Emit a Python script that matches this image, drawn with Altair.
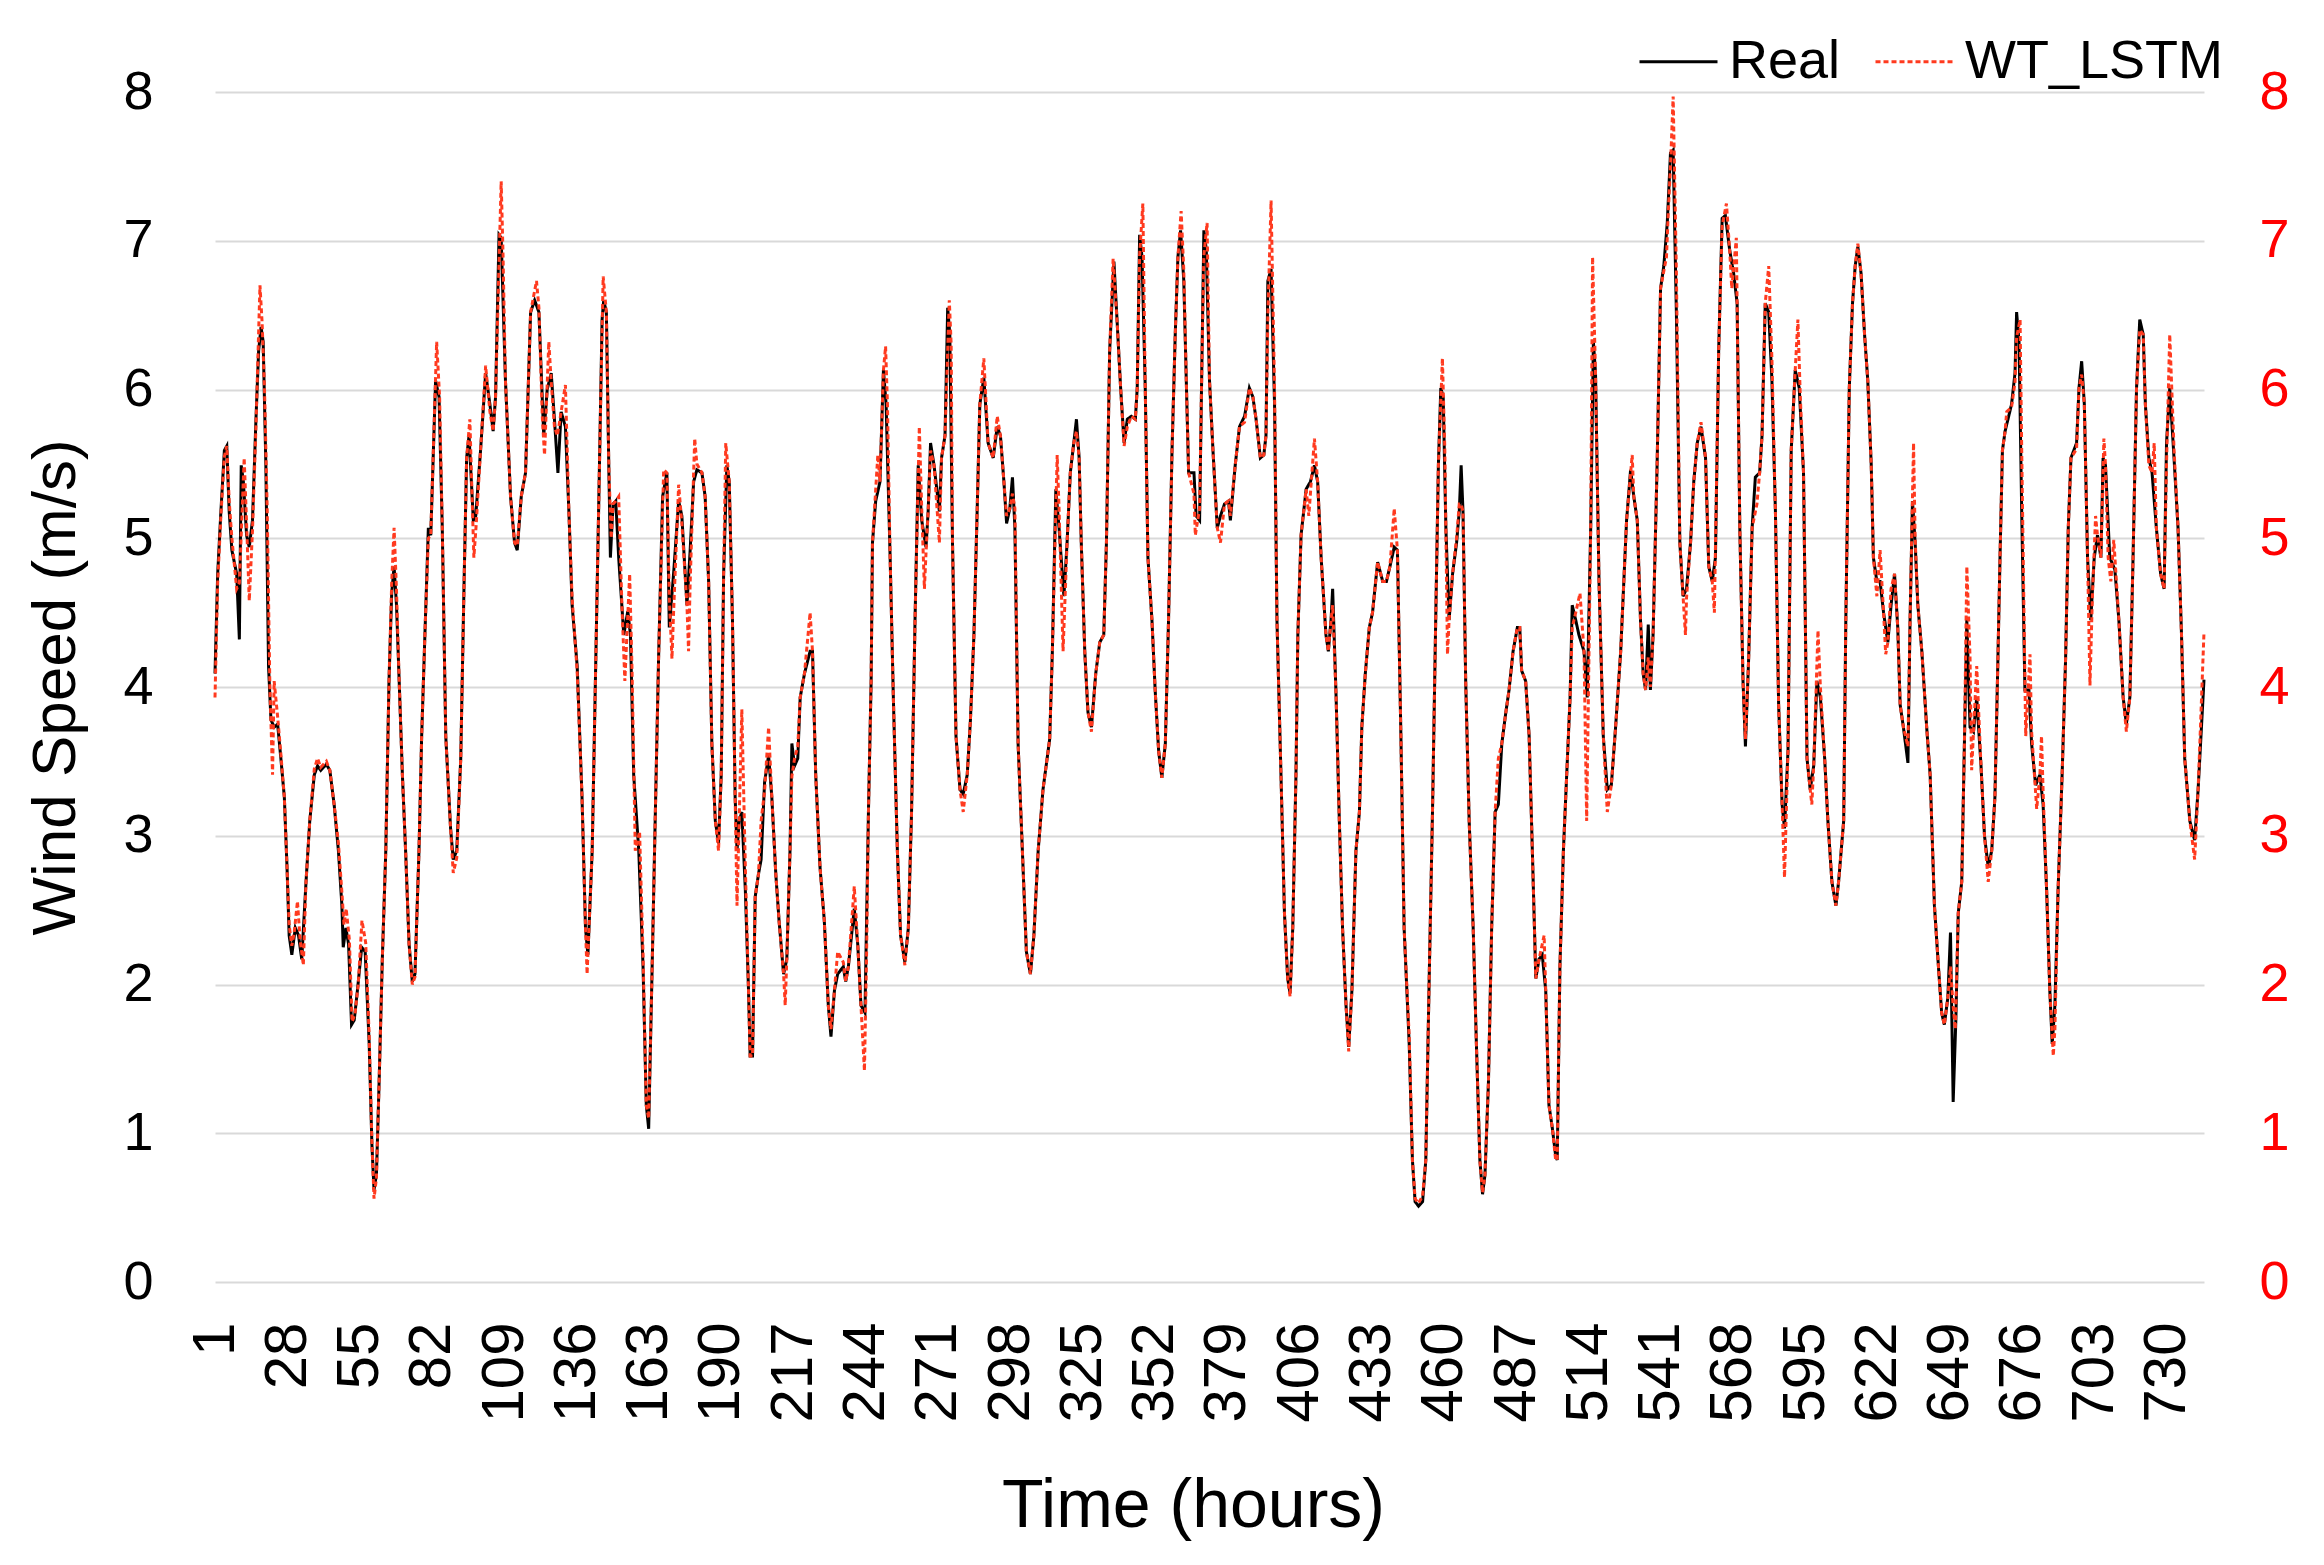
import altair as alt
import pandas as pd

# ---------------- data ----------------
real_hours = [
    1.0, 2.0, 3.2, 4.5, 5.4, 6.3, 7.3, 9.1, 10.1, 10.8, 11.6, 12.8, 13.8, 15.0, 16.3, 17.3, 18.2, 19.0, 20.0, 21.0,
    21.9, 23.1, 24.4, 25.6, 26.9, 27.9, 28.7, 29.7, 31.0, 32.2, 33.4, 35.0, 36.4, 38.1, 39.3, 40.5, 42.6, 43.9, 45.5, 47.1,
    48.4, 48.9, 49.9, 50.9, 52.0, 53.0, 54.2, 55.8, 57.1, 58.6, 59.6, 60.4, 61.3, 62.3, 63.5, 64.8, 66.0, 67.0, 67.9, 68.8,
    69.8, 71.0, 72.2, 73.5, 74.7, 75.7, 77.2, 78.2, 79.5, 80.7,
    81.6, 83.4, 84.7, 85.9, 87.2, 89.0, 90.0, 91.3, 92.8, 94.0, 95.0, 95.9, 97.5, 98.4, 100.2, 102.1, 103.7, 104.9, 105.8, 107.1,
    107.9, 109.5, 111.4, 112.9, 113.9, 115.4, 117.0, 118.9, 120.4, 122.0, 123.8, 125.1, 126.6, 127.8, 129.1, 130.3, 131.9, 133.2, 134.4, 136.3,
    138.1, 139.4, 140.3, 141.9, 143.1, 144.4, 145.6, 146.2, 147.2, 148.1, 148.7, 149.7, 150.7, 151.8, 153.7, 155.2, 156.2, 157.4, 159.3, 160.9,
    162.1, 163.0, 164.3, 165.5, 166.7,
    168.2, 169.8, 170.7, 172.3, 174.2, 175.4, 177.3, 178.5, 179.8, 181.0, 182.9, 184.1, 185.4, 186.6, 187.9, 189.1, 190.1, 191.0, 192.2, 193.1,
    194.3, 195.3, 196.0, 196.8, 197.8, 199.1, 200.3, 200.9, 201.8, 202.8, 204.0, 205.0, 206.3, 207.8, 209.0, 210.5, 211.7, 213.4, 214.6, 215.8,
    216.5, 217.5, 218.7, 219.6, 221.2, 223.3, 224.2, 225.4, 227.0, 228.6, 230.1, 231.1, 232.4, 233.6, 235.7, 236.6, 237.6, 239.8, 241.1, 242.3,
    243.8, 245.1, 246.1, 246.6, 247.8, 249.4,
    250.7, 251.7, 253.2, 254.4, 255.9, 257.1, 258.7, 260.0, 261.2, 262.5, 263.7, 265.0, 266.6, 267.4, 268.3, 269.6, 271.6, 272.4, 273.7, 274.7,
    275.5, 276.5, 277.8, 279.3, 280.5, 282.0, 283.2, 284.5, 285.7, 286.7, 288.2, 289.8, 291.7, 293.2, 294.4, 295.7, 296.7, 297.9, 298.9, 299.8,
    301.0, 302.6, 304.1, 305.6, 306.9, 308.5, 310.3, 312.8, 313.8, 315.1, 316.3, 318.1, 319.3, 320.5, 321.8, 322.8, 323.8, 324.6, 325.9, 327.1,
    328.4, 330.0, 331.5, 333.0, 334.0, 335.2,
    336.8, 338.1, 339.3, 340.6, 341.8, 343.3, 344.8, 345.5, 346.4, 347.3, 348.5, 349.5, 351.0, 352.2, 353.5, 354.7, 356.0, 357.2, 358.5, 359.7,
    360.7, 361.7, 362.9, 363.9, 364.7, 366.7, 367.5, 368.8, 369.6, 370.4, 371.3, 372.5, 373.8, 375.4, 376.6, 378.1, 379.6, 380.3, 382.1, 383.7,
    385.6, 387.4, 388.7, 389.9, 391.5, 392.8, 393.6, 394.3, 395.5, 396.8, 397.7, 399.2, 400.5, 401.7, 402.6, 403.6, 404.8, 405.5, 406.7, 408.6,
    410.2, 411.7, 412.9, 414.2, 416.0, 416.9, 417.9,
    418.5, 419.8, 421.0, 422.2, 423.5, 424.5, 425.7, 427.2, 428.5, 429.4, 430.7, 432.2, 433.4, 435.3, 437.2, 438.6, 439.9, 441.5, 442.7, 444.0,
    445.2, 447.1, 448.3, 449.3, 450.6, 452.1, 453.3, 454.6, 455.8, 457.0, 458.0, 458.9, 459.8, 460.8, 462.0, 463.3, 464.8, 465.8, 466.5, 467.2,
    468.2, 469.5, 471.0, 472.2, 473.5, 474.5, 475.4, 476.7, 477.9, 479.2, 480.4, 481.7, 483.2, 484.4, 485.9, 487.5, 488.4, 489.1, 490.6, 491.9,
    493.1, 494.4, 495.6, 496.8, 498.1, 499.3, 500.6, 501.8, 502.4,
    503.4, 504.7, 506.2, 507.2, 508.0, 509.3, 510.5, 512.4, 513.6, 514.9, 515.9, 516.7, 518.0, 519.6, 521.1, 522.6, 524.2, 526.1, 528.3, 529.8,
    531.0, 532.3, 533.5, 534.5, 535.4, 536.4, 537.2, 538.2, 539.7, 541.0, 542.2, 543.5, 544.7, 545.7, 546.9, 548.2, 549.4, 550.7, 552.2, 553.4,
    554.7, 556.1, 557.8, 559.0, 560.3, 561.5, 562.7, 564.0, 565.2, 566.8, 568.3, 569.6, 570.6, 571.8, 572.7, 573.9, 575.2, 576.4, 578.0, 578.9,
    580.1, 581.4, 582.6, 583.9,
    585.1, 586.4, 587.3, 588.6, 589.8, 591.3, 592.8, 594.4, 595.7, 596.9, 598.2, 599.4, 600.7, 602.3, 603.5, 605.0, 606.5, 607.5, 609.4, 610.2,
    611.5, 612.7, 613.7, 614.7, 615.9, 617.2, 618.4, 619.7, 620.5, 621.8, 623.0, 624.3, 625.9, 627.1, 628.4, 629.6, 630.5, 631.7, 633.4, 634.2,
    635.1, 636.1, 637.1, 638.6, 640.4, 641.7, 643.3, 644.8, 646.0, 647.0, 648.3, 649.3, 650.3, 651.3, 652.2, 653.5, 654.5, 655.4, 656.6, 657.9,
    659.1, 660.7, 662.0, 663.4, 664.7, 665.9, 666.9, 667.8, 668.7, 669.7,
    672.1, 673.4, 674.0, 674.9, 675.9, 677.1, 678.6, 679.6, 681.1, 682.7, 683.9, 685.2, 686.4, 687.3, 688.3, 689.5, 691.0, 692.3, 693.3, 694.3,
    696.4, 697.3, 698.3, 699.3, 700.5, 701.7, 703.0, 704.2, 705.5, 706.3, 707.2, 708.8, 710.7, 712.2, 713.8, 715.0, 716.3, 717.5, 718.8, 720.0,
    721.3, 722.1, 723.4, 724.6, 726.2, 727.8, 729.1, 730.0, 731.2, 732.8, 734.3, 735.6, 736.8, 738.7, 740.5, 741.8, 744.0,
]
real_speed = [
    4.09, 4.76, 5.18, 5.59, 5.62, 5.18, 4.92, 4.76, 4.32, 5.49, 5.38, 5.02, 4.94, 5.12, 5.80, 6.26, 6.42, 6.32, 5.49, 4.14,
    3.78, 3.73, 3.75, 3.52, 3.26, 2.79, 2.33, 2.20, 2.38, 2.33, 2.17, 2.69, 3.10, 3.41, 3.47, 3.44, 3.48, 3.44, 3.21, 2.90,
    2.53, 2.25, 2.38, 2.27, 1.73, 1.76, 1.96, 2.25, 2.22, 1.60, 0.93, 0.62, 0.72, 1.34, 2.17, 2.90, 4.04, 4.63, 4.81, 4.55,
    4.04, 3.41, 2.90, 2.27, 2.02, 2.07, 2.90, 3.67, 4.40, 5.07,
    5.02, 6.06, 5.95, 5.07, 3.67, 3.05, 2.84, 2.90, 3.52, 4.66, 5.54, 5.69, 5.12, 5.15, 5.59, 6.11, 5.90, 5.72, 5.95, 7.04,
    7.02, 6.06, 5.28, 4.97, 4.92, 5.28, 5.44, 6.52, 6.60, 6.52, 5.69, 6.00, 6.11, 5.80, 5.44, 5.85, 5.75, 5.18, 4.55, 4.14,
    3.26, 2.38, 2.20, 2.90, 4.04, 5.28, 6.47, 6.60, 6.52, 5.49, 4.87, 5.23, 5.25, 4.87, 4.35, 4.51, 4.35, 3.41, 2.90, 2.12,
    1.19, 1.03, 2.12, 3.16, 4.19,
    5.28, 5.44, 4.40, 4.76, 5.25, 5.15, 4.55, 4.92, 5.38, 5.46, 5.44, 5.28, 4.71, 3.62, 3.10, 2.95, 3.41, 4.76, 5.49, 5.38,
    4.45, 3.26, 2.90, 3.10, 3.16, 2.64, 1.96, 1.52, 1.52, 2.59, 2.74, 2.84, 3.36, 3.54, 3.26, 2.74, 2.43, 2.07, 2.17, 2.90,
    3.62, 3.47, 3.52, 3.93, 4.09, 4.24, 4.24, 3.41, 2.79, 2.43, 1.86, 1.65, 1.96, 2.07, 2.12, 2.02, 2.12, 2.51, 2.27, 1.86,
    1.81, 3.16, 4.04, 4.97, 5.25, 5.38,
    6.13, 5.90, 4.87, 3.93, 2.90, 2.33, 2.15, 2.38, 3.16, 4.45, 5.49, 5.12, 4.94, 5.18, 5.64, 5.49, 5.18, 5.54, 5.69, 6.55,
    6.37, 4.97, 3.67, 3.31, 3.28, 3.41, 3.78, 4.35, 5.18, 5.90, 6.08, 5.64, 5.54, 5.75, 5.69, 5.38, 5.10, 5.20, 5.41, 5.07,
    3.62, 2.90, 2.22, 2.07, 2.33, 2.90, 3.31, 3.65, 4.24, 5.33, 5.07, 4.61, 4.97, 5.44, 5.64, 5.80, 5.54, 4.97, 4.24, 3.83,
    3.73, 4.09, 4.30, 4.35, 4.97, 6.26,
    6.86, 6.42, 6.01, 5.64, 5.80, 5.82, 5.80, 6.01, 7.04, 6.89, 6.01, 4.87, 4.45, 3.98, 3.57, 3.39, 3.62, 4.45, 5.59, 6.37,
    6.89, 7.07, 6.73, 6.01, 5.44, 5.44, 5.15, 5.12, 6.11, 7.07, 6.94, 6.06, 5.59, 5.07, 5.15, 5.23, 5.25, 5.12, 5.49, 5.75,
    5.82, 6.01, 5.95, 5.80, 5.54, 5.56, 5.69, 6.73, 6.81, 5.90, 4.45, 3.41, 2.48, 2.04, 1.94, 2.38, 3.41, 4.35, 5.02, 5.33,
    5.38, 5.49, 5.38, 4.87, 4.35, 4.24, 4.45,
    4.66, 3.93, 3.10, 2.38, 1.86, 1.58, 1.96, 2.90, 3.16, 3.73, 4.09, 4.40, 4.50, 4.84, 4.71, 4.71, 4.81, 4.94, 4.92, 3.67,
    2.38, 1.60, 0.82, 0.54, 0.51, 0.54, 0.82, 2.07, 3.16, 4.45, 5.49, 6.01, 5.95, 5.07, 4.45, 4.76, 4.97, 5.18, 5.49, 5.18,
    4.04, 3.10, 2.38, 1.60, 0.82, 0.59, 0.72, 1.34, 2.38, 3.16, 3.21, 3.62, 3.83, 3.98, 4.24, 4.40, 4.40, 4.11, 4.04, 3.67,
    2.90, 2.04, 2.17, 2.20, 1.96, 1.19, 1.03, 0.85, 0.82,
    2.12, 2.90, 3.52, 3.93, 4.55, 4.45, 4.35, 4.24, 3.93, 5.07, 6.32, 6.11, 4.71, 3.67, 3.31, 3.34, 3.73, 4.24, 5.12, 5.46,
    5.28, 5.12, 4.45, 4.09, 3.98, 4.42, 3.98, 4.35, 5.49, 6.68, 6.83, 7.12, 7.59, 7.61, 6.52, 4.97, 4.61, 4.66, 4.97, 5.38,
    5.64, 5.75, 5.54, 4.81, 4.71, 4.87, 6.26, 7.15, 7.17, 6.94, 6.78, 6.58, 5.07, 4.04, 3.60, 4.19, 5.07, 5.41, 5.44, 5.69,
    6.58, 6.52, 6.06, 5.18,
    3.88, 3.21, 3.05, 3.57, 5.59, 6.13, 6.01, 5.44, 3.52, 3.31, 3.47, 4.04, 3.93, 3.52, 3.10, 2.69, 2.53, 2.69, 3.10, 4.45,
    6.01, 6.58, 6.83, 6.96, 6.78, 6.37, 6.06, 5.49, 4.87, 4.71, 4.71, 4.50, 4.30, 4.55, 4.76, 4.40, 3.88, 3.73, 3.49, 4.45,
    5.25, 4.97, 4.55, 4.24, 3.73, 3.41, 2.53, 2.12, 1.81, 1.73, 1.91, 2.35, 1.21, 1.76, 2.48, 2.69, 3.62, 4.45, 3.73, 3.70,
    3.93, 3.47, 3.00, 2.79, 2.90, 3.26, 4.09, 4.87, 5.59, 5.72,
    5.90, 6.11, 6.52, 6.32, 5.18, 3.98, 3.98, 3.62, 3.34, 3.41, 3.21, 2.64, 1.96, 1.60, 1.86, 2.64, 3.41, 4.19, 5.07, 5.54,
    5.64, 6.01, 6.19, 5.90, 4.87, 4.45, 4.87, 5.02, 4.87, 5.54, 5.49, 4.87, 4.79, 4.45, 3.93, 3.75, 3.93, 4.87, 6.01, 6.47,
    6.37, 5.90, 5.54, 5.44, 5.07, 4.76, 4.66, 5.64, 6.01, 5.54, 5.07, 4.35, 3.52, 3.10, 2.97, 3.31, 4.05,
]

lstm_hours = [
    1.0, 2.0, 3.2, 4.5, 5.4, 6.3, 7.3, 9.1, 10.1, 11.9, 12.8, 13.8, 15.0, 16.3, 17.8, 18.6, 19.5, 20.5, 21.5, 22.5,
    23.1, 24.4, 25.6, 26.9, 27.9, 28.7, 29.7, 30.6, 31.8, 32.8, 34.0, 35.0, 36.4, 38.1, 39.3, 40.5, 42.6, 43.9, 45.5, 47.1,
    48.4, 49.2, 50.0, 51.2, 52.2, 53.3, 54.5, 55.9, 57.3, 58.6, 59.6, 60.4, 61.3, 62.3, 63.5, 64.8, 66.0, 67.0, 67.9, 68.8,
    69.8, 71.0, 72.2, 73.5, 74.7, 75.7, 77.2, 78.2, 79.5, 80.7,
    81.6, 83.8, 84.9, 85.9, 87.2, 89.0, 90.0, 91.3, 92.8, 94.0, 95.0, 96.2, 97.7, 98.6, 100.2, 102.1, 103.7, 104.9, 105.8, 107.9,
    108.6, 109.5, 111.4, 112.9, 113.9, 115.4, 117.0, 118.9, 121.1, 122.0, 123.3, 124.1, 125.7, 126.6, 127.8, 128.9, 130.3, 131.9, 133.2, 134.4,
    136.3, 138.1, 139.4, 140.0, 141.9, 143.1, 144.4, 146.0, 147.2, 148.1, 149.0, 149.7, 150.7, 151.8, 153.0, 154.1, 155.9, 156.8, 158.0, 159.6,
    160.9, 162.1, 163.0, 164.3, 165.5, 166.7,
    168.6, 169.8, 170.7, 171.7, 172.3, 174.2, 175.4, 177.3, 177.9, 178.5, 180.2, 181.0, 182.9, 184.1, 185.4, 186.6, 187.9, 189.1, 190.1, 191.0,
    191.8, 193.1, 194.3, 195.3, 196.0, 196.8, 197.8, 199.1, 200.3, 200.9, 201.8, 202.8, 204.0, 205.0, 206.3, 207.8, 209.0, 210.5, 211.7, 213.4,
    214.0, 214.6, 215.8, 216.5, 217.5, 218.7, 219.6, 221.2, 223.3, 224.2, 225.4, 227.0, 228.6, 230.1, 231.1, 232.4, 233.6, 235.7, 236.6, 237.6,
    239.8, 241.1, 242.3, 243.6, 244.4, 245.1, 246.1, 246.6, 248.6, 249.4,
    250.7, 251.5, 252.2, 253.2, 254.4, 255.9, 257.1, 258.7, 260.0, 261.2, 262.5, 264.1, 265.0, 266.0, 266.6, 267.4, 268.3, 269.6, 271.6, 272.4,
    273.7, 275.3, 276.0, 276.5, 277.8, 279.3, 280.5, 282.0, 283.2, 284.5, 285.7, 286.7, 288.2, 289.8, 291.7, 293.2, 294.4, 295.7, 296.7, 297.9,
    298.9, 299.8, 301.0, 302.6, 304.1, 305.6, 306.9, 308.5, 310.3, 312.8, 313.8, 315.6, 316.3, 317.8, 319.3, 320.5, 321.8, 322.8, 323.8, 324.6,
    325.9, 327.1, 328.4, 330.0, 331.5, 333.0, 334.0, 335.2, 336.5,
    338.1, 339.3, 340.6, 341.8, 343.3, 344.8, 345.5, 346.4, 347.6, 348.5, 349.5, 351.0, 352.2, 353.5, 354.7, 356.0, 357.2, 358.5, 359.7, 360.7,
    361.9, 362.9, 363.9, 364.7, 366.7, 367.2, 368.8, 369.6, 370.4, 371.6, 372.5, 373.8, 375.4, 376.6, 378.1, 379.6, 380.3, 382.1, 383.7, 385.6,
    387.4, 388.7, 389.9, 391.5, 392.8, 393.6, 394.3, 395.5, 396.8, 397.7, 399.2, 400.5, 401.7, 402.6, 403.6, 404.8, 405.5, 406.7, 408.6, 409.6,
    410.6, 411.7, 412.9, 414.2, 416.0, 416.9, 417.9,
    418.5, 419.8, 421.0, 422.2, 423.5, 424.5, 425.7, 427.2, 428.5, 429.4, 430.7, 432.2, 433.4, 435.3, 437.2, 438.6, 439.9, 441.5, 442.7, 444.0,
    445.2, 447.1, 448.3, 449.3, 450.6, 452.1, 453.3, 454.6, 455.8, 457.0, 458.0, 459.5, 460.4, 461.4, 462.0, 463.3, 464.8, 465.8, 466.5, 467.2,
    468.2, 469.5, 471.0, 472.2, 473.5, 474.5, 475.4, 476.7, 477.9, 479.2, 480.4, 481.7, 483.2, 484.4, 485.9, 487.5, 488.4, 489.1, 490.6, 491.9,
    493.1, 494.4, 495.6, 497.5, 498.1, 499.3, 500.6, 501.8, 502.4,
    503.4, 504.7, 506.2, 507.2, 508.0, 509.3, 510.9, 512.4, 513.4, 514.9, 515.6, 516.7, 518.0, 519.6, 521.1, 522.6, 524.2, 526.1, 528.3, 530.4,
    531.0, 532.3, 533.5, 534.5, 535.4, 536.4, 537.2, 538.2, 539.7, 541.0, 543.2, 543.9, 544.7, 545.7, 546.9, 548.2, 549.4, 550.3, 550.7, 552.2,
    553.4, 554.7, 556.1, 557.8, 559.0, 560.3, 561.1, 562.7, 564.0, 565.6, 566.8, 567.6, 569.3, 570.6, 571.8, 572.7, 573.9, 575.2, 577.0, 578.0,
    578.9, 580.1, 581.4, 582.6, 583.9,
    585.1, 586.4, 587.3, 588.6, 589.8, 591.3, 592.3, 593.2, 594.4, 595.7, 596.9, 597.5, 598.2, 599.8, 600.7, 602.3, 603.5, 605.0, 606.5, 607.5,
    609.4, 610.2, 611.5, 612.7, 613.7, 614.7, 615.9, 617.2, 618.4, 619.7, 620.5, 621.8, 623.0, 624.3, 625.1, 625.9, 627.1, 628.4, 629.6, 630.5,
    631.7, 633.4, 634.2, 635.5, 636.1, 637.1, 638.6, 640.4, 641.7, 643.3, 644.8, 646.0, 647.0, 648.3, 649.3, 650.3, 651.1, 652.2, 653.5, 654.5,
    655.4, 656.6, 657.2, 657.9, 659.1, 660.7, 662.0, 663.4, 664.7, 665.9, 666.9, 667.8, 668.7, 669.7,
    670.3, 672.1, 673.4, 674.0, 675.3, 675.9, 677.4, 679.0, 679.6, 681.5, 682.7, 683.3, 683.9, 685.2, 686.4, 687.7, 688.3, 689.5, 691.0, 692.3,
    693.3, 694.3, 696.4, 697.3, 698.3, 699.3, 700.5, 701.4, 702.3, 703.5, 704.2, 705.5, 706.6, 707.2, 708.2, 709.2, 710.3, 712.2, 713.8, 715.0,
    716.3, 717.5, 718.8, 720.0, 721.3, 722.1, 723.4, 724.6, 725.4, 726.2, 727.8, 729.1, 730.0, 731.2, 732.8, 734.3, 735.6, 736.8, 738.7, 740.5,
    741.8, 744.0,
]
lstm_speed = [
    3.93, 4.70, 5.15, 5.55, 5.62, 5.25, 5.00, 4.66, 4.70, 5.54, 5.10, 4.58, 5.05, 5.75, 6.70, 6.45, 6.00, 5.20, 4.00, 3.41,
    4.04, 3.80, 3.55, 3.26, 2.79, 2.40, 2.26, 2.35, 2.56, 2.30, 2.13, 2.69, 3.10, 3.45, 3.52, 3.46, 3.50, 3.44, 3.21, 2.95,
    2.62, 2.40, 2.51, 2.30, 1.75, 1.80, 2.00, 2.43, 2.28, 1.65, 0.95, 0.56, 0.70, 1.34, 2.17, 2.90, 4.04, 4.70, 5.07, 4.65,
    4.04, 3.41, 2.90, 2.27, 2.00, 2.05, 2.90, 3.67, 4.40, 5.00,
    5.02, 6.32, 5.95, 5.07, 3.67, 3.05, 2.75, 2.85, 3.52, 4.66, 5.54, 5.80, 4.87, 5.10, 5.59, 6.16, 5.85, 5.72, 5.95, 7.40,
    6.90, 6.06, 5.28, 4.97, 4.95, 5.28, 5.44, 6.52, 6.73, 6.55, 5.80, 5.56, 6.32, 6.05, 5.75, 5.69, 5.85, 6.03, 5.18, 4.60,
    4.10, 3.26, 2.38, 2.07, 2.90, 4.04, 5.28, 6.76, 6.52, 5.49, 5.00, 5.23, 5.25, 5.28, 4.55, 4.04, 4.76, 4.10, 2.90, 3.03,
    2.20, 1.19, 1.10, 2.12, 3.16, 4.19,
    5.46, 5.44, 4.60, 4.19, 4.50, 5.36, 5.10, 4.55, 4.24, 4.70, 5.67, 5.50, 5.44, 5.28, 4.71, 3.62, 3.10, 2.90, 3.41, 4.76,
    5.64, 5.38, 4.45, 3.26, 2.53, 3.10, 3.85, 2.80, 1.96, 1.52, 1.52, 2.59, 2.74, 3.10, 3.30, 3.73, 3.26, 2.74, 2.43, 2.07,
    1.86, 2.17, 2.90, 3.40, 3.52, 3.60, 3.93, 4.09, 4.50, 4.24, 3.41, 2.79, 2.43, 1.86, 1.70, 1.96, 2.22, 2.15, 2.02, 2.12,
    2.66, 2.27, 1.86, 1.42, 2.20, 3.16, 4.04, 4.97, 5.56, 5.38,
    6.13, 6.29, 5.90, 4.87, 3.93, 2.90, 2.33, 2.13, 2.38, 3.16, 4.45, 5.75, 5.20, 4.66, 4.90, 5.18, 5.59, 5.49, 4.97, 5.54,
    5.69, 6.60, 6.30, 4.97, 3.67, 3.31, 3.16, 3.41, 3.78, 4.35, 5.18, 5.90, 6.21, 5.64, 5.54, 5.82, 5.69, 5.38, 5.15, 5.20,
    5.30, 5.20, 3.62, 2.90, 2.22, 2.07, 2.33, 2.90, 3.31, 3.65, 4.24, 5.56, 5.20, 4.24, 4.97, 5.44, 5.64, 5.72, 5.54, 4.97,
    4.24, 3.83, 3.70, 4.09, 4.30, 4.35, 4.97, 6.26, 6.88,
    6.42, 6.01, 5.62, 5.75, 5.82, 5.80, 6.01, 6.90, 7.25, 6.01, 4.87, 4.45, 3.98, 3.57, 3.39, 3.62, 4.45, 5.59, 6.37, 6.89,
    7.20, 6.80, 6.01, 5.44, 5.30, 5.02, 5.20, 6.11, 6.90, 7.12, 6.06, 5.59, 5.07, 4.97, 5.23, 5.25, 5.15, 5.49, 5.75, 5.78,
    6.01, 5.95, 5.80, 5.54, 5.56, 5.69, 6.50, 7.27, 6.00, 4.45, 3.41, 2.48, 2.04, 1.92, 2.38, 3.41, 4.35, 5.02, 5.33, 5.15,
    5.40, 5.67, 5.38, 4.87, 4.35, 4.24, 4.45,
    4.55, 3.93, 3.10, 2.38, 1.86, 1.55, 1.96, 2.90, 3.16, 3.73, 4.09, 4.40, 4.50, 4.84, 4.71, 4.71, 4.81, 5.20, 4.92, 3.67,
    2.38, 1.65, 0.82, 0.56, 0.53, 0.58, 0.82, 2.07, 3.16, 4.45, 5.49, 6.21, 5.60, 4.22, 4.45, 4.76, 5.00, 5.23, 5.23, 5.18,
    4.04, 3.10, 2.38, 1.60, 0.82, 0.60, 0.72, 1.34, 2.38, 3.16, 3.52, 3.62, 3.83, 3.98, 4.24, 4.40, 4.40, 4.11, 4.04, 3.67,
    2.90, 2.04, 2.17, 2.33, 1.96, 1.19, 1.03, 0.82, 0.82,
    2.12, 2.90, 3.52, 3.93, 4.40, 4.50, 4.63, 4.24, 3.10, 5.07, 6.89, 6.11, 4.71, 3.67, 3.16, 3.34, 3.73, 4.24, 5.12, 5.56,
    5.28, 5.12, 4.45, 4.09, 3.98, 4.20, 4.00, 4.35, 5.49, 6.68, 6.89, 7.20, 7.50, 7.97, 6.80, 4.97, 4.61, 4.35, 4.60, 4.97,
    5.38, 5.64, 5.78, 5.54, 4.81, 4.71, 4.50, 6.26, 7.10, 7.25, 6.94, 6.68, 7.02, 5.07, 4.04, 3.65, 4.19, 5.07, 5.23, 5.44,
    5.69, 6.58, 6.83, 6.20, 5.18,
    3.88, 3.21, 2.72, 3.57, 5.59, 6.13, 6.47, 5.95, 5.44, 3.52, 3.31, 3.21, 3.47, 4.38, 4.00, 3.52, 3.10, 2.69, 2.53, 2.69,
    3.10, 4.45, 6.01, 6.58, 6.83, 6.98, 6.78, 6.37, 6.06, 5.49, 4.87, 4.61, 4.92, 4.50, 4.22, 4.30, 4.66, 4.76, 4.40, 3.88,
    3.73, 3.60, 4.45, 5.64, 5.00, 4.55, 4.24, 3.73, 3.41, 2.53, 2.12, 1.81, 1.73, 1.91, 2.12, 1.85, 1.70, 2.48, 2.69, 3.62,
    4.81, 4.20, 3.44, 3.70, 4.14, 3.47, 3.00, 2.69, 2.90, 3.26, 4.09, 4.87, 5.59, 5.72,
    5.85, 5.88, 6.05, 6.35, 6.47, 5.60, 3.67, 4.22, 3.70, 3.18, 3.41, 3.67, 3.30, 2.64, 1.96, 1.52, 1.70, 2.64, 3.41, 4.19,
    5.07, 5.54, 5.60, 6.01, 6.10, 5.90, 4.87, 4.01, 4.60, 5.15, 5.02, 4.87, 5.67, 5.49, 4.87, 4.71, 4.99, 4.45, 3.93, 3.70,
    3.93, 4.87, 6.01, 6.40, 6.37, 5.90, 5.49, 5.44, 5.64, 5.07, 4.76, 4.66, 5.50, 6.37, 5.60, 5.07, 4.35, 3.52, 3.10, 2.84,
    3.31, 4.37,
]

x_tick_values = list(range(1, 731, 27))   # 1, 28, 55, ..., 730
y_tick_values = [0, 1, 2, 3, 4, 5, 6, 7, 8]
series_names = ["Real", "WT_LSTM"]
series_colors = ["#000000", "#FF3A1F"]

df = pd.concat([
    pd.DataFrame({"hour": real_hours, "speed": real_speed, "series": series_names[0]}),
    pd.DataFrame({"hour": lstm_hours, "speed": lstm_speed, "series": series_names[1]}),
], ignore_index=True)

FONT = "Liberation Sans"

x_scale = alt.Scale(domain=[1, 744], nice=False, zero=False)
x_enc = alt.X(
    "hour:Q",
    scale=x_scale,
    axis=alt.Axis(
        values=x_tick_values, labelAngle=-90, labelFontSize=60, labelPadding=40,
        labelColor="#000000", labelFont=FONT, labelFlush=False, labelOverlap=False,
        grid=False, domain=False, ticks=False,
        title="Time (hours)", titleFontSize=68, titleFont=FONT, titleFontWeight="normal",
        titleColor="#000000", titleX=978, titleY=244, titleAlign="center", titleBaseline="alphabetic",
    ),
)

y_scale = alt.Scale(domain=[0, 8], nice=False, zero=True)

legend_kw = dict(
    title=None, orient="none", legendX=1423, legendY=-71, direction="horizontal",
    labelFontSize=54, labelFont=FONT, labelColor="#000000", labelLimit=0, symbolType="stroke",
    symbolSize=6084, symbolStrokeWidth=3, labelOffset=10, columnPadding=28,
)

lines = alt.Chart(df).mark_line(strokeWidth=3).encode(
    x=x_enc,
    y=alt.Y(
        "speed:Q", scale=y_scale,
        axis=alt.Axis(
            values=y_tick_values, orient="left", grid=True, gridColor="#D9D9D9", gridWidth=2,
            domain=False, ticks=False, labelFontSize=54, labelPadding=62, labelColor="#000000",
            labelFont=FONT,
            title="Wind Speed (m/s)", titleFontSize=62, titleFont=FONT, titleFontWeight="normal",
            titleColor="#000000", titleX=-160, titleY=595, titleAngle=-90,
            titleAlign="center", titleBaseline="middle",
        ),
    ),
    color=alt.Color(
        "series:N",
        scale=alt.Scale(domain=series_names, range=series_colors),
        legend=alt.Legend(**legend_kw),
    ),
    strokeDash=alt.StrokeDash(
        "series:N",
        scale=alt.Scale(domain=series_names, range=[[1, 0], [5, 3]]),
        legend=alt.Legend(**legend_kw),
    ),
)

right_axis = alt.Chart(df).mark_line(opacity=0).encode(
    x=x_enc,
    y=alt.Y(
        "speed:Q", scale=y_scale,
        axis=alt.Axis(
            values=y_tick_values, orient="right", grid=False, domain=False, ticks=False,
            labelFontSize=54, labelPadding=55, labelColor="#FF0000", labelFont=FONT, title=None,
        ),
    ),
    detail="series:N",
)

chart = alt.layer(lines, right_axis).resolve_axis(y="independent").properties(
    width=1989,
    height=1190,
    autosize=alt.AutoSizeParams(type="none"),
    padding={"left": 207, "top": 84, "right": 110, "bottom": 270},
    background="#FFFFFF",
).configure(font=FONT).configure_view(stroke=None)

chart.save("out.html", embed_options={"renderer": "svg", "actions": False})
